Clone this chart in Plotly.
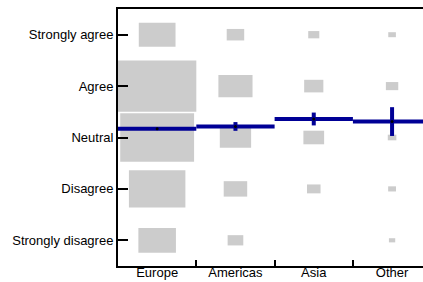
import plotly.graph_objects as go

regions = ["Europe", "Americas", "Asia", "Other"]
levels = ["Strongly disagree", "Disagree", "Neutral", "Agree", "Strongly agree"]

# response counts per region, in level order (SD .. SA)
europe_counts = [23, 52, 89, 100, 22]
americas_counts = [4, 9, 16, 19, 5]
asia_counts = [0, 3, 7, 6, 2]
other_counts = [0.65, 1.0, 1.2, 2.5, 0.95]

# mean response and error per region
means = [3.17, 3.215, 3.36, 3.31]
errors = [0.02, 0.085, 0.125, 0.28]

all_counts = [europe_counts, americas_counts, asia_counts, other_counts]
max_count = max(max(c) for c in all_counts)

bx, by, bbase, bw = [], [], [], []
for i, counts in enumerate(all_counts):
    for j, c in enumerate(counts):
        side = (c / max_count) ** 0.5
        bx.append(i)
        by.append(side)
        bbase.append(j + 1 - side / 2)
        bw.append(side)

fig = go.Figure()
fig.add_trace(go.Bar(x=bx, y=by, base=bbase, width=bw,
                     marker=dict(color="#cccccc", line=dict(width=0)),
                     hoverinfo="skip", showlegend=False))

lx, ly = [], []
for i, m in enumerate(means):
    lx += [i - 0.5, i + 0.5, None]
    ly += [m, m, None]
blue = "#000096"
fig.add_trace(go.Scatter(x=lx, y=ly, mode="lines", line=dict(color=blue, width=4),
                         showlegend=False, hoverinfo="skip"))
fig.add_trace(go.Scatter(x=list(range(len(regions))), y=means, mode="markers",
                         marker=dict(color="black", size=3),
                         error_y=dict(type="data", array=errors, color=blue,
                                      thickness=4, width=0),
                         showlegend=False))

font = dict(family="Liberation Sans, Arial, sans-serif", size=13, color="black")
fig.update_layout(
    width=423, height=282,
    margin=dict(l=118, r=0, t=9, b=15.5, autoexpand=False),
    plot_bgcolor="white", paper_bgcolor="white",
    barmode="overlay", font=font,
    xaxis=dict(range=[-0.5, 3.395], tickvals=list(range(len(regions))), ticktext=regions,
               ticks="", ticklen=0, ticklabelstandoff=-7, showgrid=False, zeroline=False,
               showline=True, linecolor="black", linewidth=2, mirror=True, automargin=False,
               minor=dict(tickvals=[0.5, 1.5, 2.5], ticks="inside", ticklen=6,
                          tickwidth=2, tickcolor="black", showgrid=False)),
    yaxis=dict(range=[0.5, 5.5], tickvals=list(range(1, 6)), ticktext=levels,
               ticks="inside", ticklen=10, tickwidth=2, tickcolor="black",
               showgrid=False, zeroline=False, showline=True, linecolor="black",
               linewidth=2, mirror=False, automargin=False),
)
fig.write_html("out.html", config={"displayModeBar": False},
               post_script="document.body.style.margin='0';document.body.style.overflow='hidden';")
